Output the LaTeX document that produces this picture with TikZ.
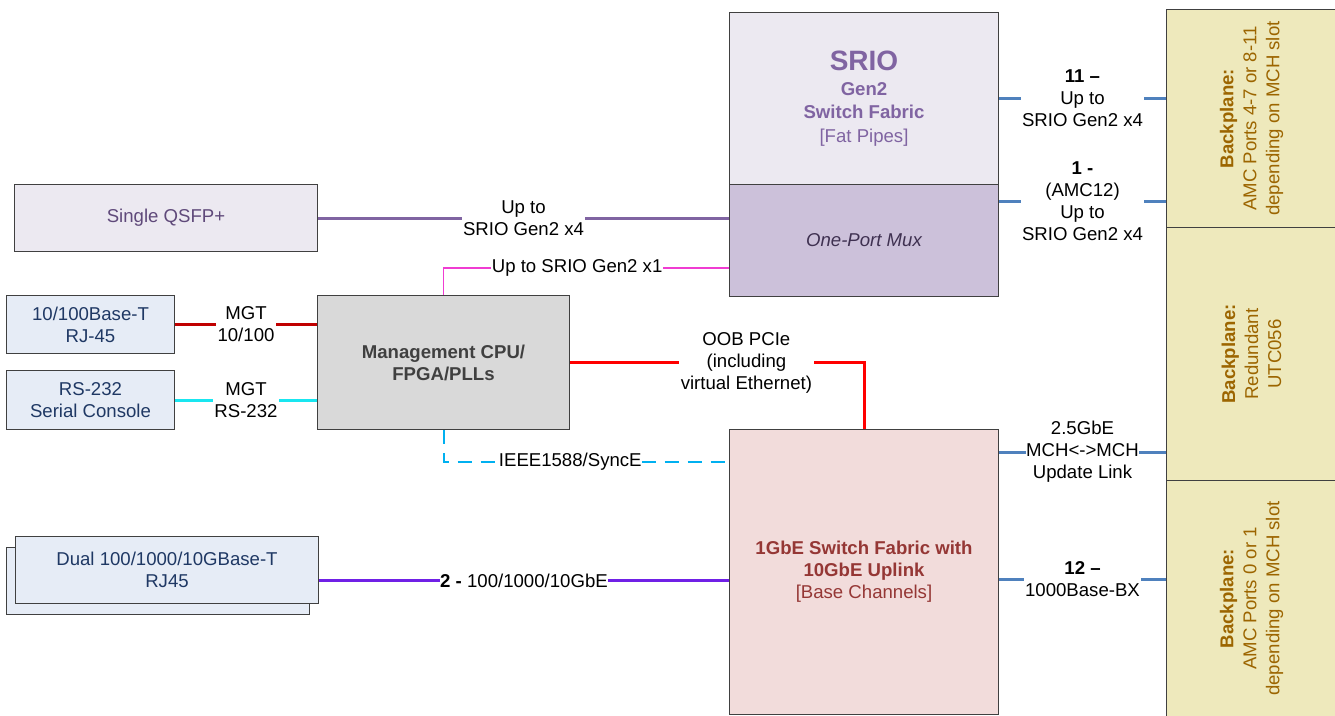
\documentclass[tikz,border=0pt]{standalone}
\usepackage{fontspec}
\setmainfont{Liberation Sans}
\usetikzlibrary{calc}
\definecolor{boxline}{HTML}{404040}
\definecolor{sriofill}{HTML}{ECE9F1}
\definecolor{muxfill}{HTML}{CCC1DA}
\definecolor{sriotext}{HTML}{8064A2}
\definecolor{muxtext}{HTML}{3F3151}
\definecolor{qsfptext}{HTML}{5F497A}
\definecolor{bluefill}{HTML}{E6ECF6}
\definecolor{bluetext}{HTML}{1F3864}
\definecolor{cpufill}{HTML}{D9D9D9}
\definecolor{cputext}{HTML}{404040}
\definecolor{swfill}{HTML}{F2DCDB}
\definecolor{swtext}{HTML}{953735}
\definecolor{bpfill}{HTML}{EEE9BC}
\definecolor{bptext}{HTML}{9C6500}
\definecolor{linkblue}{HTML}{4F81BD}
\definecolor{linkpurple}{HTML}{8064A2}
\definecolor{linkmag}{RGB}{240,60,210}
\definecolor{linkdred}{HTML}{C00000}
\definecolor{linkcyan}{RGB}{25,230,240}
\definecolor{linkred}{HTML}{FF0000}
\definecolor{linksky}{HTML}{00B0F0}
\definecolor{linkviolet}{RGB}{112,32,230}
\begin{document}
\begin{tikzpicture}[x=1pt,y=-1pt,
  box/.style={draw=boxline, line width=1pt, inner sep=0pt, anchor=north west,
    font=\fontsize{18.6}{22}\selectfont, align=center},
  lbl/.style={fill=white, inner sep=1.5pt, font=\fontsize{18.6}{22}\selectfont, align=center, text=black},
  bplabel/.style={text=bptext, align=center, font=\fontsize{18.6}{23}\selectfont, rotate=90, inner sep=0pt},
  bluel/.style={linkblue, line width=3pt},
  purpl/.style={linkpurple, line width=3pt},
  magl/.style={linkmag, line width=1.8pt},
  dredl/.style={linkdred, line width=3pt},
  cyanl/.style={linkcyan, line width=3pt},
  redl/.style={linkred, line width=3pt},
  skyl/.style={linksky, line width=2pt, dash pattern=on 14pt off 9pt},
  violl/.style={linkviolet, line width=3pt}
]
\useasboundingbox (0,0) rectangle (1335,715);
\clip (0,0) rectangle (1335,715);

% boxes
\node[box, fill=sriofill, text=sriotext, minimum width=269pt, minimum height=172pt,
  font=\fontsize{18.6}{23.5}\selectfont] (srio) at (729,12)
  {{\fontsize{28}{28}\selectfont\bfseries SRIO}\\[1pt]\bfseries Gen2\\\bfseries Switch Fabric\\{}[Fat Pipes]};
\node[box, fill=muxfill, text=muxtext, minimum width=269pt, minimum height=112pt] (mux) at (729,184)
  {\itshape One-Port Mux};
\node[box, fill=sriofill, text=qsfptext, minimum width=303pt, minimum height=67pt] (qsfp) at (14,184)
  {Single QSFP+};
\node[box, fill=bluefill, text=bluetext, minimum width=168pt, minimum height=58pt] (rj) at (6,295)
  {10/100Base-T\\RJ-45};
\node[box, fill=bluefill, text=bluetext, minimum width=168pt, minimum height=59pt] (rs) at (6,370)
  {RS-232\\Serial Console};
\node[box, fill=cpufill, text=cputext, minimum width=252pt, minimum height=134pt, font=\fontsize{18.6}{22}\selectfont\bfseries] (cpu) at (317,295)
  {Management CPU/\\FPGA/PLLs};
\node[box, fill=bluefill, minimum width=303pt, minimum height=67pt] (dualback) at (6,547) {};
\node[box, fill=bluefill, text=bluetext, minimum width=303pt, minimum height=67pt] (dual) at (15,536)
  {Dual 100/1000/10GBase-T\\RJ45};
\node[box, fill=swfill, text=swtext, minimum width=269pt, minimum height=285pt] (switch) at (729,429)
  {\bfseries 1GbE Switch Fabric with\\\bfseries 10GbE Uplink\\{}[Base Channels]};
\node[box, fill=bpfill, minimum width=170pt, minimum height=218pt] (bp1) at (1166,9) {};
\node[box, fill=bpfill, minimum width=170pt, minimum height=253pt] (bp2) at (1166,227) {};
\node[box, fill=bpfill, minimum width=170pt, minimum height=236pt] (bp3) at (1166,480) {};
\node[bplabel] (bp1t) at (bp1.center) {\bfseries Backplane:\\AMC Ports 4-7 or 8-11\\depending on MCH slot};
\node[bplabel] (bp2t) at (bp2.center) {\bfseries Backplane:\\Redundant\\UTC056};
\node[bplabel] (bp3t) at (bp3.center) {\bfseries Backplane:\\AMC Ports 0 or 1\\depending on MCH slot};

% helper coordinates
\coordinate (p1) at ($(mux.north east)+(0,17)$);
\coordinate (p2) at ($(switch.north east)+(0,23)$);
\coordinate (p3) at ($(switch.north east)+(0,150)$);
\coordinate (p4) at ($(dual.east)+(0,10.5)$);

% right links
\draw[bluel] (srio.east) -- node[lbl]{\bfseries 11 –\\Up to\\SRIO Gen2 x4} (srio.east -| bp1.west);
\draw[bluel] (p1) -- node[lbl]{\bfseries 1 -\\(AMC12)\\Up to\\SRIO Gen2 x4} (p1 -| bp1.west);
\draw[bluel] (p2) -- node[lbl, inner sep=0.5pt]{2.5GbE\\MCH<->MCH\\Update Link} (p2 -| bp2.west);
\draw[bluel] (p3) -- node[lbl]{\bfseries 12 –\\1000Base-BX} (p3 -| bp3.west);

% left links
\draw[purpl] (qsfp.east) -- node[lbl]{Up to\\SRIO Gen2 x4} (qsfp.east -| mux.west);
\draw[dredl] (rj.east) -- node[lbl]{MGT\\10/100} (rj.east -| cpu.west);
\draw[cyanl] (rs.east) -- node[lbl]{MGT\\RS-232} (rs.east -| cpu.west);
\draw[magl] (cpu.north) |- node[lbl, pos=0.734, inner sep=0.5pt]{Up to SRIO Gen2 x1} (mux.west |- 0,268);
\draw[redl] (cpu.east) -| node[lbl, pos=0.3]{OOB PCIe\\(including\\virtual Ethernet)} (switch.north);
\draw[skyl] (cpu.south) |- node[lbl, pos=0.722, inner sep=0.5pt]{IEEE1588/SyncE} (switch.west |- 0,462);
\draw[violl] (p4) -- node[lbl, inner sep=0.5pt]{\textbf{2 -} 100/1000/10GbE} (p4 -| switch.west);
\end{tikzpicture}
\end{document}
